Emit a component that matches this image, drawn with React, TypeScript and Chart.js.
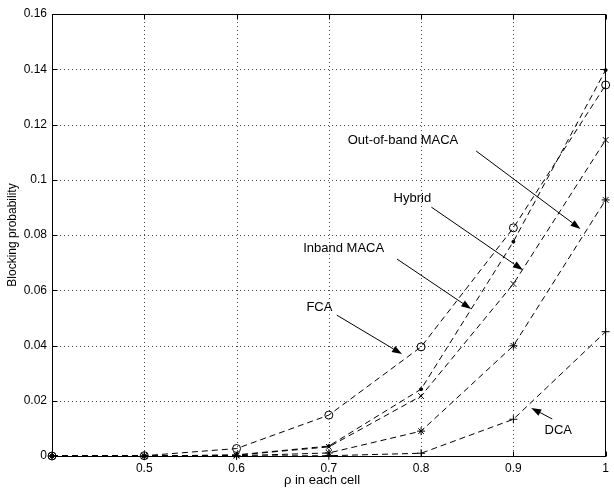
import { useEffect, useRef } from 'react';
import { Chart, registerables } from 'chart.js';
Chart.register(...registerables);

const FONT = '"Liberation Sans", Arial, Helvetica, sans-serif';

// rho values
const XS = [0.4, 0.5, 0.6, 0.7, 0.8, 0.9, 1.0];
// blocking probabilities
const FCA = [0, 0.0001, 0.0027, 0.0148, 0.0395, 0.0826, 0.1343];
const INBAND = [0, 0, 0.0004, 0.0036, 0.0242, 0.0776, 0.1397];
const HYBRID = [0, 0, 0.0003, 0.0033, 0.0217, 0.0623, 0.1144];
const OUTBAND = [0, 0, 0.0001, 0.0011, 0.009, 0.0399, 0.0927];
const DCA = [0, 0, 0, 0.0001, 0.001, 0.0133, 0.045];

const X_TICKS = [0.4, 0.5, 0.6, 0.7, 0.8, 0.9, 1.0];
const Y_TICKS = [0, 0.02, 0.04, 0.06, 0.08, 0.1, 0.12, 0.14, 0.16];

const X_TITLE = 'ρ in each cell';
const Y_TITLE = 'Blocking probability';

// annotation label centre (tx, ty) and arrow from (x1, y1) to tip (x2, y2), in data units
const ANNOTATIONS = [
  { text: 'Out-of-band MACA', tx: 0.7804, ty: 0.1144, x1: 0.8597, y1: 0.1104, x2: 0.9727, y2: 0.0822 },
  { text: 'Hybrid', tx: 0.7905, ty: 0.0934, x1: 0.8111, y1: 0.0901, x2: 0.9103, y2: 0.0673 },
  { text: 'Inband MACA', tx: 0.7161, ty: 0.0753, x1: 0.7739, y1: 0.0713, x2: 0.8543, y2: 0.0532 },
  { text: 'FCA', tx: 0.6898, ty: 0.0539, x1: 0.7086, y1: 0.051, x2: 0.7793, y2: 0.0369 },
  { text: 'DCA', tx: 0.9486, ty: 0.0094, x1: 0.9421, y1: 0.0134, x2: 0.9193, y2: 0.0174 },
];

const matlabPlugin = {
  id: 'matlabLook',
  beforeDatasetsDraw(chart: any) {
    const { ctx, chartArea: a, scales } = chart;
    const x = scales.x, y = scales.y;
    ctx.save();
    ctx.strokeStyle = '#444';
    ctx.lineWidth = 1;
    ctx.setLineDash([1, 3]);
    X_TICKS.slice(1, -1).forEach((v) => {
      const px = Math.round(x.getPixelForValue(v)) + 0.5;
      ctx.beginPath();
      ctx.moveTo(px, a.top);
      ctx.lineTo(px, a.bottom);
      ctx.stroke();
    });
    Y_TICKS.slice(1, -1).forEach((v) => {
      const py = Math.round(y.getPixelForValue(v)) + 0.5;
      ctx.beginPath();
      ctx.moveTo(a.left, py);
      ctx.lineTo(a.right, py);
      ctx.stroke();
    });
    ctx.restore();
  },
  afterDatasetsDraw(chart: any) {
    const { ctx, chartArea: a, scales } = chart;
    const x = scales.x, y = scales.y;
    ctx.save();
    ctx.setLineDash([]);
    ctx.strokeStyle = '#000';
    ctx.lineWidth = 1;
    const L = Math.round(a.left) + 0.5, R = Math.round(a.right) - 0.5;
    const T = Math.round(a.top) + 0.5, B = Math.round(a.bottom) + 0.5;
    ctx.strokeRect(L, T, R - L, B - T);
    const tl = 5;
    X_TICKS.forEach((v) => {
      const px = Math.round(x.getPixelForValue(v)) + 0.5;
      ctx.beginPath();
      ctx.moveTo(px, B); ctx.lineTo(px, B - tl);
      ctx.moveTo(px, T); ctx.lineTo(px, T + tl);
      ctx.stroke();
    });
    Y_TICKS.forEach((v) => {
      const py = Math.round(y.getPixelForValue(v)) + 0.5;
      ctx.beginPath();
      ctx.moveTo(L, py); ctx.lineTo(L + tl, py);
      ctx.moveTo(R, py); ctx.lineTo(R - tl, py);
      ctx.stroke();
    });

    // annotations
    ctx.fillStyle = '#000';
    ctx.font = `13px ${FONT}`;
    ctx.textAlign = 'center';
    ctx.textBaseline = 'middle';
    ANNOTATIONS.forEach((an) => {
      ctx.fillText(an.text, x.getPixelForValue(an.tx), y.getPixelForValue(an.ty));
      const x1 = x.getPixelForValue(an.x1), y1 = y.getPixelForValue(an.y1);
      const x2 = x.getPixelForValue(an.x2), y2 = y.getPixelForValue(an.y2);
      const ang = Math.atan2(y2 - y1, x2 - x1);
      const hl = 10, hw = 3.5;
      const bx = x2 - hl * Math.cos(ang), by = y2 - hl * Math.sin(ang);
      ctx.beginPath();
      ctx.moveTo(x1, y1);
      ctx.lineTo(bx, by);
      ctx.stroke();
      ctx.beginPath();
      ctx.moveTo(x2, y2);
      ctx.lineTo(bx + hw * Math.sin(ang), by - hw * Math.cos(ang));
      ctx.lineTo(bx - hw * Math.sin(ang), by + hw * Math.cos(ang));
      ctx.closePath();
      ctx.fill();
    });

    // axis titles
    ctx.font = `13px ${FONT}`;
    ctx.textAlign = 'center';
    ctx.textBaseline = 'middle';
    ctx.fillText(X_TITLE, 322, 480);
    ctx.translate(13, (a.top + a.bottom) / 2);
    ctx.rotate(-Math.PI / 2);
    ctx.font = `12px ${FONT}`;
    ctx.fillText(Y_TITLE, 0, 0);
    ctx.restore();
  },
};

export default function App() {
  const ref = useRef<HTMLCanvasElement>(null);
  useEffect(() => {
    if (!ref.current) return;
    const mk = (label: string, ys: number[], style: string, radius: number, filled: boolean) => ({
      label,
      data: XS.map((x, i) => ({ x, y: ys[i] })),
      borderColor: '#000',
      borderWidth: 1,
      borderDash: [6, 4],
      fill: false,
      tension: 0,
      pointStyle: style,
      pointRadius: radius,
      pointBorderColor: '#000',
      pointBackgroundColor: filled ? '#000' : 'rgba(0,0,0,0)',
      pointBorderWidth: 1,
      clip: false,
    });
    const chart = new Chart(ref.current, {
      type: 'line',
      data: {
        datasets: [
          mk('FCA', FCA, 'circle', 4, false),
          mk('Inband MACA', INBAND, 'circle', 1.5, true),
          mk('Hybrid', HYBRID, 'crossRot', 4, false),
          mk('Out-of-band MACA', OUTBAND, 'star', 4, false),
          mk('DCA', DCA, 'cross', 4, false),
        ] as any,
      },
      options: {
        responsive: false,
        animation: false,
        events: [],
        layout: { padding: { top: 14, right: 2, left: 0, bottom: 0 } },
        plugins: { legend: { display: false }, tooltip: { enabled: false } },
        scales: {
          x: {
            type: 'linear',
            min: 0.4,
            max: 1.0,
            afterFit: (s: any) => { s.height = 33; },
            afterBuildTicks: (s: any) => { s.ticks = X_TICKS.map((v) => ({ value: v })); },
            grid: { display: false, drawTicks: false },
            border: { display: false },
            ticks: {
              padding: 5,
              color: '#000',
              font: { family: FONT, size: 12 },
              maxRotation: 0,
              autoSkip: false,
              callback: (v: any) => {
                const r = Math.round(Number(v) * 10) / 10;
                if (r === 0.4) return '';
                return r === 1 ? '1' : r.toFixed(1);
              },
            },
          },
          y: {
            type: 'linear',
            min: 0,
            max: 0.16,
            afterFit: (s: any) => { s.width = 52; },
            afterBuildTicks: (s: any) => { s.ticks = Y_TICKS.map((v) => ({ value: v })); },
            grid: { display: false, drawTicks: false },
            border: { display: false },
            ticks: {
              padding: 5,
              color: '#000',
              font: { family: FONT, size: 12 },
              autoSkip: false,
              callback: (v: any) => String(Math.round(Number(v) * 100) / 100),
            },
          },
        },
      },
      plugins: [matlabPlugin],
    });
    return () => chart.destroy();
  }, []);
  return (
    <div style={{ position: 'fixed', left: 0, top: 0, width: 614, height: 489, background: '#fff' }}>
      <canvas ref={ref} width={614} height={489} style={{ display: 'block' }} />
    </div>
  );
}
